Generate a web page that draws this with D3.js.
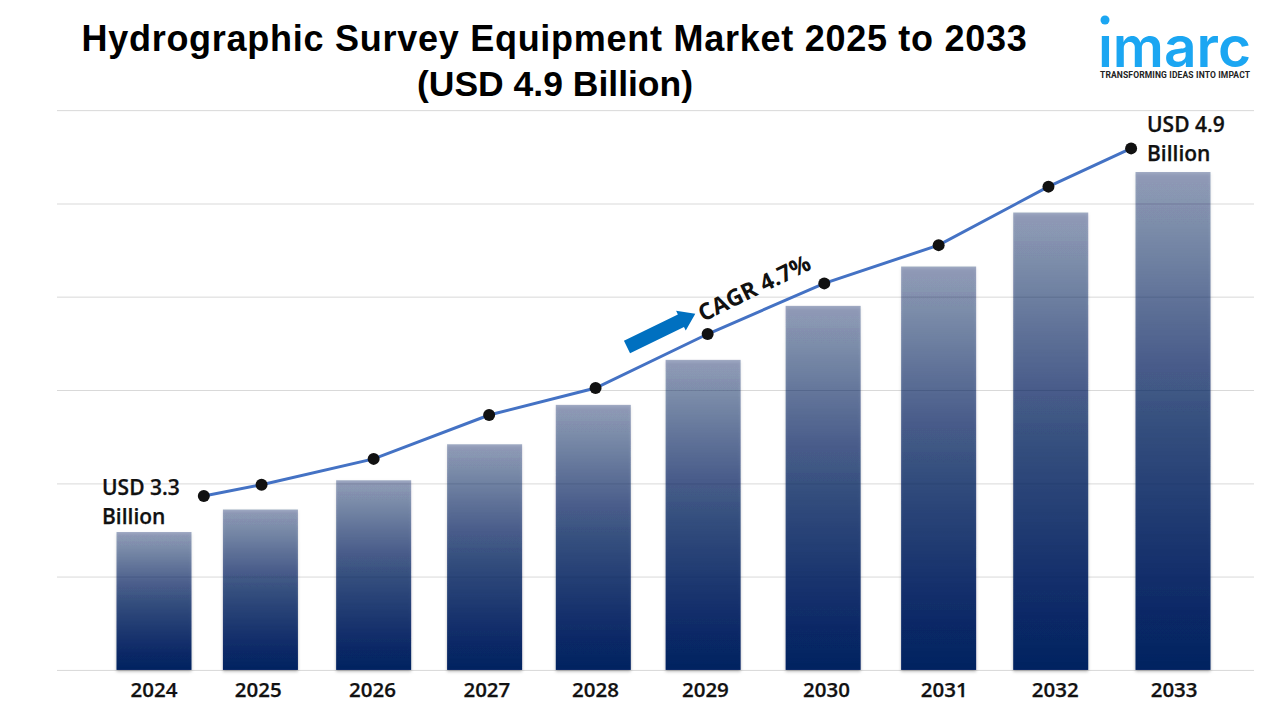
<!DOCTYPE html>
<html><head><meta charset="utf-8">
<script src="https://cdn.jsdelivr.net/npm/d3@7/dist/d3.min.js"></script>
<style>html,body{margin:0;background:#fff}svg{display:block}</style></head>
<body><svg id="c" width="1280" height="720"></svg>
<script>
const categories=["2024","2025","2026","2027","2028","2029","2030","2031","2032","2033"];
const barValues=[3.30,3.40,3.53,3.69,3.865,4.065,4.305,4.48,4.72,4.90];
const barPositions=[2024,2024.94,2025.94,2026.92,2027.88,2028.85,2029.91,2030.93,2031.92,2033];
const lineValues=[3.46,3.51,3.625,3.82,3.94,4.18,4.405,4.575,4.835,5.005];
const linePositions=[2024.44,2024.95,2025.94,2026.96,2027.9,2028.89,2029.92,2030.93,2031.9,2032.63];
const labelPositions=[2024,2024.92,2025.93,2026.94,2027.9,2028.87,2029.94,2030.98,2031.96,2033.01];
const gridValues=[2.687,3.102,3.516,3.931,4.346,4.76,5.175];
const titleLines=["Hydrographic Survey Equipment Market 2025 to 2033","(USD 4.9 Billion)"];
const startLabel=["USD 3.3","Billion"],endLabel=["USD 4.9","Billion"],cagrLabel="CAGR 4.7%";
const brand="imarc",tagline="TRANSFORMING IDEAS INTO IMPACT";

const svg=d3.select("#c");
const x=d3.scaleLinear().domain([2024,2033]).range([154,1173]);
const y=d3.scaleLinear().domain([3.3,4.9]).range([532,172]);
const barW=75, fontB="'Open Sans','Noto Sans',sans-serif";
const defs=svg.append("defs");
const g=defs.append("linearGradient").attr("id","bar").attr("x1",0).attr("y1",0).attr("x2",0).attr("y2",1);
g.append("stop").attr("offset",0).attr("stop-color","#002060").attr("stop-opacity",.36);
g.append("stop").attr("offset",.5).attr("stop-color","#002060").attr("stop-opacity",.73);
g.append("stop").attr("offset",1).attr("stop-color","#002060");
const fl=defs.append("filter").attr("id","sh").attr("x","-20%").attr("y","-5%").attr("width","140%").attr("height","110%");
fl.append("feDropShadow").attr("dx",0).attr("dy",1.5).attr("stdDeviation",1.6).attr("flood-color","#000").attr("flood-opacity",.3);

svg.append("g").call(d3.axisLeft(y).tickValues(gridValues).tickSize(-1197).tickFormat(""))
 .attr("transform","translate(1254,0) scale(-1,1)").call(s=>{s.select(".domain").remove();
  s.selectAll("line").attr("stroke","#d9d9d9").attr("stroke-width",1).attr("x2",1197);});

svg.append("g").selectAll("rect").data(barValues).join("rect")
 .attr("x",(d,i)=>x(barPositions[i])-barW/2).attr("width",barW)
 .attr("y",d=>y(d)).attr("height",d=>y(gridValues[0])-y(d))
 .attr("fill","url(#bar)").attr("filter","url(#sh)");

const line=d3.line().x((d,i)=>x(linePositions[i])).y(d=>y(d));
svg.append("path").attr("d",line(lineValues)).attr("fill","none").attr("stroke","#4472c4").attr("stroke-width",3);
svg.append("g").selectAll("circle").data(lineValues).join("circle")
 .attr("cx",(d,i)=>x(linePositions[i])).attr("cy",d=>y(d)).attr("r",6).attr("fill","#111");

svg.append("g").selectAll("text").data(categories).join("text")
 .attr("x",(d,i)=>x(labelPositions[i])).attr("y",697).attr("text-anchor","middle")
 .attr("font-family",fontB).attr("font-weight",600).attr("font-size",20.5).attr("stroke","#111").attr("stroke-width",.25).attr("fill","#111").text(d=>d);

svg.append("g").selectAll("text").data(titleLines).join("text")
 .attr("x",(d,i)=>i?555:554.5).attr("y",(d,i)=>i?96:51).attr("text-anchor","middle").attr("letter-spacing",(d,i)=>i?0:.73)
 .attr("font-family","'Liberation Sans',Arial,sans-serif").attr("font-weight",700).attr("font-size",(d,i)=>i?35.5:36).attr("fill","#000").text(d=>d);

const note=(arr,px,py)=>svg.append("g").selectAll("text").data(arr).join("text")
 .attr("x",px).attr("y",(d,i)=>py+i*29).attr("font-family",fontB).attr("font-weight",600).attr("font-size",21).attr("stroke","#111").attr("stroke-width",.25).attr("fill","#111").text(d=>d);
note(startLabel,102,495);note(endLabel,1147,132);

svg.append("text").attr("transform","translate(703,322) rotate(-26)").attr("font-family",fontB).attr("font-weight",700).attr("font-size",23).attr("fill","#111").text(cagrLabel);

const a=svg.append("g").attr("transform","translate(627,347) rotate(-26)");
a.append("path").attr("d",d3.line()([[0,-7],[60,-7],[60,-11],[76,0],[60,11],[60,7],[0,7]])+"Z").attr("fill","#0070c0");

defs.append("clipPath").attr("id","lg").append("rect").attr("x",1090).attr("y",36).attr("width",180).attr("height",40);
svg.append("text").attr("x",1098).attr("y",67).attr("clip-path","url(#lg)").attr("font-family","Inter,sans-serif").attr("font-weight",600).attr("font-size",56).attr("textLength",153).attr("lengthAdjust","spacingAndGlyphs").attr("fill","#1ba6f2").text(brand);
svg.append("circle").attr("cx",1105).attr("cy",20).attr("r",4.5).attr("fill","#1ba6f2");
svg.append("text").attr("x",1100).attr("y",78).attr("font-family","Roboto,sans-serif").attr("font-weight",700).attr("font-size",8.5).attr("textLength",150).attr("lengthAdjust","spacing").attr("fill","#222").text(tagline);
</script></body></html>
